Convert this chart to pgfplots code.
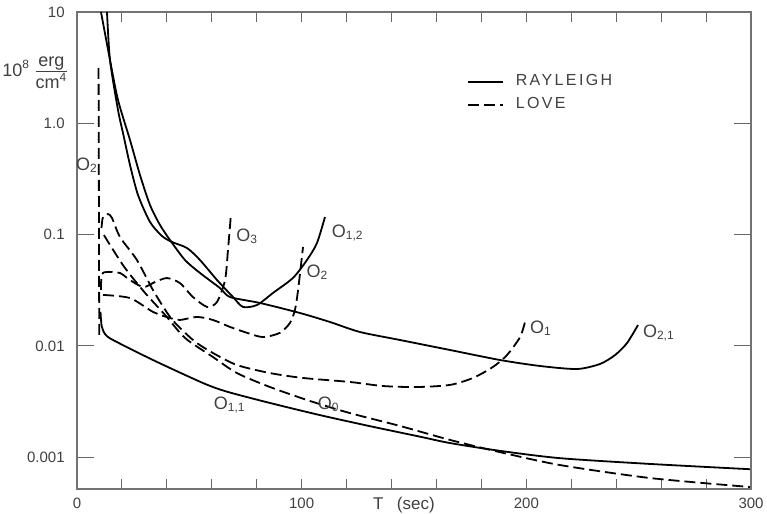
\documentclass[border=0pt]{standalone}
\usepackage{fontspec}
\setmainfont{Liberation Sans}
\newfontfamily\spaced[LetterSpace=15]{Liberation Sans}
\usepackage{pgfplots}
\pgfplotsset{compat=1.18}
\tikzset{
    love/.style={dash pattern=on 5.5pt off 2.5pt},
    lab/.style={font=\fontsize{9}{11}\selectfont, text=black!75, inner sep=1pt},
}
\begin{document}
\begin{tikzpicture}
\begin{semilogyaxis}[
    scale only axis, width=337pt, height=238.5pt,
    xmin=0, xmax=300, ymin=5.18e-4, ymax=10,
    clip=false,
    axis line style={black!55, line width=0.6pt},
    xtick={0,100,200,300},
    xticklabels={0,100,200,300},
    minor xtick={20,40,...,280},
    major x tick style={draw=none},
    ytick={0.001,0.01,0.1,1,10},
    yticklabels={0.001,0.01,0.1,1.0,10},
    yminorticks=false,
    major tick length=8.5pt, minor tick length=5pt,
    tick style={black!60, line width=0.5pt},
    tick label style={font=\fontsize{7.5}{9}\selectfont, text=black!75, inner sep=0.5pt},
    yticklabel style={xshift=-5.5pt},
    xticklabel style={yshift=-4pt},
    legend style={at={(rel axis cs:0.578,0.878)}, anchor=north west,
        draw=none, fill=none, inner sep=0pt, row sep=0.5pt,
        font=\fontsize{8}{9.5}\selectfont, text=black!75,
        nodes={inner xsep=6pt}},
    legend cell align=left,
    legend image code/.code={\draw[#1] (0pt,0pt) -- (17.5pt,0pt);},
    every axis plot/.append style={black, line width=0.9pt},
]
% Rayleigh O_{1,2}
\addplot[smooth, tension=0.45] coordinates {
    (13.35,10) (14.69,3.70) (18.25,1.317) (20.47,0.818) (23.59,0.422)
    (27.15,0.227) (32.49,0.1298) (37.83,0.0971) (42.28,0.0858) (48.95,0.0758)
    (54.74,0.0591) (62.31,0.0391) (69.43,0.0275) (73.88,0.0224) (80.11,0.0233)
    (87.23,0.0299) (96.13,0.0408) (102.36,0.0591) (106.81,0.0841) (110.37,0.1439)
};
\addlegendentry{\spaced RAYLEIGH}
% Love O_1
\addplot[love, smooth, tension=0.45] coordinates {
    (10.9,0.1147) (11.57,0.144) (13.8,0.153) (15.58,0.141) (19.14,0.095)
    (26.7,0.059) (33.8,0.0318) (41.4,0.0182) (48.1,0.0131) (53.4,0.0106)
    (60.5,0.00863) (71.2,0.00673) (85.9,0.0057) (100.6,0.00515) (121.5,0.00474)
    (136.2,0.00436) (151.3,0.00427) (166,0.00446) (176.2,0.00515) (185.1,0.00646)
    (191.4,0.00828) (197.2,0.0120) (199.4,0.0164)
};
\addlegendentry{\spaced LOVE}
% Rayleigh O_{2,1}
\addplot[smooth, tension=0.45, forget plot] coordinates {
    (10.68,10) (14.69,3.70) (18.25,1.62) (23.59,0.708) (28.04,0.343)
    (32.49,0.1845) (36.94,0.122) (41.39,0.0894) (48.06,0.0591) (54.74,0.0452)
    (63.64,0.0331) (68.09,0.0275) (81.44,0.0243) (99.24,0.01975) (112.59,0.0164)
    (125.95,0.01333) (143.75,0.0113) (166.0,0.00919) (188.25,0.00747) (206.05,0.0066)
    (222.5,0.0062) (232.8,0.00688) (239.5,0.00828) (244.8,0.0106) (249.7,0.0154)
};
% Rayleigh O_{1,1}
\addplot[smooth, tension=0.45, forget plot] coordinates {
    (10.46,0.0202) (11.0,0.0150) (12.6,0.0127) (16.02,0.0113) (33.82,0.00747)
    (56.07,0.00464) (66.76,0.00388) (85.9,0.00307) (108.1,0.00239) (130.4,0.00190)
    (152.6,0.00153) (166,0.00134) (188.3,0.00114) (215,0.00098) (255,0.00087)
    (299.5,0.00078)
};
% Love O_2, left branch
\addplot[love, forget plot] coordinates {
    (9.6,3.14) (9.75,0.205) (9.9,0.0113)
};
% Love O_3
\addplot[love, smooth, tension=0.45, forget plot] coordinates {
    (10.68,0.0318) (11.57,0.0452) (19.14,0.0452) (22.25,0.0407) (29.37,0.0338)
    (34.7,0.0375) (40.05,0.0407) (45.8,0.0367) (51.6,0.0275) (57.9,0.0224)
    (62.3,0.0248) (65.9,0.039) (67.2,0.0728) (68.5,0.15)
};
% Love O_2
\addplot[love, smooth, tension=0.45, forget plot] coordinates {
    (11.57,0.0287) (23.59,0.0269) (33.82,0.0202) (41.39,0.0178) (45.84,0.0171)
    (53.4,0.0182) (60.5,0.0171) (68.1,0.0148) (75.7,0.0131) (82.8,0.0120)
    (90.3,0.0131) (94.8,0.0161) (97.0,0.021) (98.4,0.0318) (100.6,0.0774)
};
% Love O_0
\addplot[love, smooth, tension=0.45, forget plot] coordinates {
    (12.0,0.099) (14.7,0.0806) (21.4,0.050) (30.3,0.0299) (39.2,0.019)
    (48.1,0.01178) (60.5,0.00795) (71.2,0.0057) (85.9,0.00427) (103.7,0.0032)
    (121.5,0.00249) (143.7,0.00191) (166,0.00143) (188.3,0.00111) (215,0.00085)
    (255,0.00065) (299.5,0.00054)
};
\node[lab] at (axis cs:4.4,0.42) {O\textsubscript{2}};
\node[lab] at (axis cs:75.8,0.097) {O\textsubscript{3}};
\node[lab] at (axis cs:120.5,0.103) {O\textsubscript{1,2}};
\node[lab] at (axis cs:107,0.0461) {O\textsubscript{2}};
\node[lab] at (axis cs:206.5,0.0145) {O\textsubscript{1}};
\node[lab] at (axis cs:259,0.0131) {O\textsubscript{2,1}};
\node[lab] at (axis cs:68,0.00294) {O\textsubscript{1,1}};
\node[lab] at (axis cs:112,0.0030) {O\textsubscript{0}};
\node[lab, anchor=north, font=\fontsize{8.5}{10}\selectfont, inner sep=0pt] at (rel axis cs:0.485,0) [yshift=-4pt]
    {T\hspace{0.8em}(sec)};
\node[lab, anchor=east, font=\fontsize{9}{11}\selectfont, inner sep=0pt] at (rel axis cs:0,0.872) [xshift=-3.5pt]
    {10\textsuperscript{8}\,$\frac{\mbox{erg}}{\mbox{cm\textsuperscript{4}}}$};
\end{semilogyaxis}
\path (current axis.south west) ++(-38.5pt,-12.5pt);
\path (current axis.north east) ++(8pt,6pt);
\end{tikzpicture}
\end{document}
